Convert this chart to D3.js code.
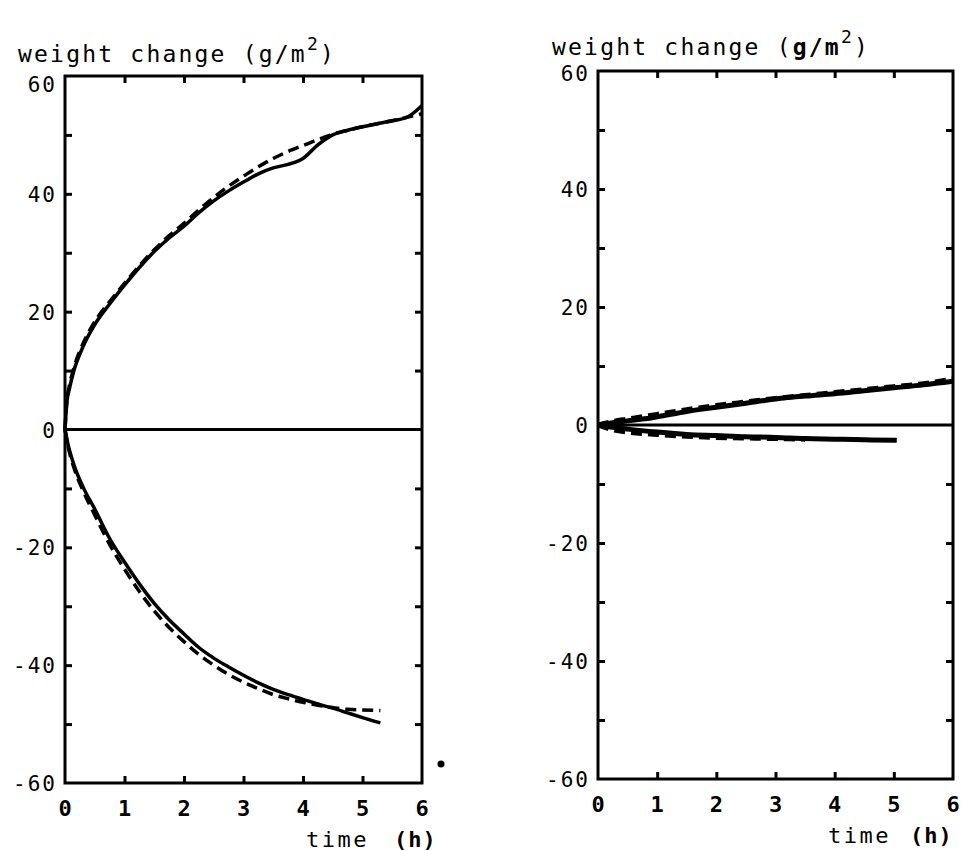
<!DOCTYPE html>
<html>
<head>
<meta charset="utf-8">
<script src="https://cdn.jsdelivr.net/npm/d3@7"></script>
<style>
  body { margin: 0; background: #fff; }
  svg text { font-family: "DejaVu Sans Mono", "Liberation Mono", monospace; fill: #000; }
</style>
</head>
<body>
<svg id="chart" width="963" height="851"></svg>
<script>
// tick values
var hours = [0, 1, 2, 3, 4, 5, 6];
var yLabels = [-60, -40, -20, 0, 20, 40, 60];
var yMinor = [-50, -40, -30, -20, -10, 10, 20, 30, 40, 50];

// left panel, weight gain (upper) and loss (lower)
var tUp = [0, 0.03, 0.08, 0.15, 0.3, 0.5, 0.75, 1, 1.25, 1.5, 1.75, 2, 2.25, 2.5, 2.75, 3, 3.25, 3.5, 3.75, 4, 4.25, 4.5, 4.75, 5, 5.25, 5.5, 5.75, 6];
var leftUpSolid = [0, 4.4, 7.2, 10, 14, 17.8, 21.3, 24.5, 27.5, 30.2, 32.5, 34.5, 36.8, 38.8, 40.5, 42, 43.4, 44.4, 45, 46, 48.3, 50, 50.8, 51.4, 51.9, 52.4, 53, 55];
var leftUpDashed = [0, 4.8, 7.7, 10.5, 14.5, 18.3, 21.7, 24.8, 27.8, 30.5, 32.9, 35, 37.3, 39.4, 41.3, 43, 44.6, 46, 47.2, 48.2, 49.2, 50.1, 50.8, 51.4, 51.9, 52.4, 53, 53.6];

var tDown = [0, 0.05, 0.15, 0.3, 0.5, 0.75, 1, 1.25, 1.5, 1.75, 2, 2.25, 2.5, 2.75, 3, 3.25, 3.5, 3.75, 4, 4.25, 4.5, 4.75, 5, 5.3];
var leftDownSolid = [0, -2.5, -6, -9.7, -13.5, -18.5, -22.5, -26.2, -29.5, -32.3, -34.7, -37, -38.8, -40.3, -41.7, -43, -44.1, -45, -45.8, -46.6, -47.3, -48.1, -48.9, -49.8];
var leftDownDashed = [0, -2.8, -6.5, -10.3, -14.5, -19.5, -23.7, -27.5, -30.8, -33.6, -36, -38.2, -40, -41.6, -42.9, -44, -45, -45.7, -46.3, -46.8, -47.2, -47.5, -47.6, -47.7];

// right panel
var tR = [0, 0.25, 0.5, 0.75, 1, 1.5, 2, 2.5, 3, 3.5, 4, 4.5, 5, 5.5, 6];
var rightUpSolid = [0, 0.4, 0.7, 1.0, 1.4, 2.3, 3.0, 3.7, 4.4, 4.9, 5.3, 5.8, 6.3, 6.8, 7.4];
var rightUpDashed = [0, 0.6, 1.0, 1.4, 1.8, 2.6, 3.3, 3.9, 4.5, 5.0, 5.5, 6.0, 6.5, 7.0, 7.8];
var tRDown = [0, 0.25, 0.5, 1, 1.5, 2, 2.5, 3, 3.5, 4, 4.5, 5.05];
var rightDownSolid = [0, -0.4, -0.7, -1.2, -1.6, -1.8, -2.0, -2.1, -2.3, -2.4, -2.5, -2.6];
var rightDownDashed = [0, -0.8, -1.2, -1.6, -1.9, -2.1, -2.2, -2.3, -2.4];

function zip(ts, vs) {
    return vs.map(function (v, i) { return { t: ts[i], v: v }; });
}

var svg = d3.select("#chart");

function drawPanel(p) {
    var x = d3.scaleLinear().domain([0, 6]).range([p.left, p.right]);
    var y = d3.scaleLinear().domain([-60, 60]).range([p.bottom, p.top]);
    var g = svg.append("g");

    // inward ticks on all four sides
    g.append("g").attr("transform", "translate(0," + p.bottom + ")")
        .call(d3.axisBottom(x).tickValues(hours.slice(1, 6)).tickSize(-7).tickFormat(""));
    g.append("g").attr("transform", "translate(0," + p.top + ")")
        .call(d3.axisTop(x).tickValues(hours.slice(1, 6)).tickSize(-7).tickFormat(""));
    g.append("g").attr("transform", "translate(" + p.left + ",0)")
        .call(d3.axisLeft(y).tickValues(yMinor).tickSize(-7).tickFormat(""));
    g.append("g").attr("transform", "translate(" + p.right + ",0)")
        .call(d3.axisRight(y).tickValues(yMinor).tickSize(-7).tickFormat(""));
    g.selectAll(".domain").remove();
    g.selectAll(".tick line").attr("stroke", "#000").attr("stroke-width", 3);

    // frame and zero line
    g.append("rect")
        .attr("x", p.left).attr("y", p.top)
        .attr("width", p.right - p.left).attr("height", p.bottom - p.top)
        .attr("fill", "none").attr("stroke", "#000").attr("stroke-width", 3);
    g.append("line")
        .attr("x1", x(0)).attr("x2", x(6))
        .attr("y1", y(0)).attr("y2", y(0))
        .attr("stroke", "#000").attr("stroke-width", 3);

    // labels
    g.selectAll("text.ylab").data(yLabels).enter().append("text")
        .attr("class", "ylab")
        .attr("x", p.left - 8)
        .attr("y", function (d) { return y(d) + 8 + (d === 60 ? p.topShift : 0); })
        .attr("text-anchor", "end")
        .attr("font-size", 21).attr("letter-spacing", 2)
        .text(function (d) { return d < 0 ? "-" + (-d) : d; });
    g.selectAll("text.xlab").data(hours).enter().append("text")
        .attr("class", "xlab")
        .attr("x", function (d) { return x(d); }).attr("y", p.bottom + 33)
        .attr("text-anchor", "middle")
        .attr("font-size", 22).attr("font-weight", "bold")
        .text(function (d) { return d; });
    g.append("text").attr("x", p.timeX).attr("y", p.bottom + 64)
        .attr("font-size", 22).attr("letter-spacing", 2.5).text("time");
    g.append("text").attr("x", p.timeX + p.unitGap).attr("y", p.bottom + 64)
        .attr("font-size", 22).attr("font-weight", "bold").attr("letter-spacing", 1).text("(h)");

    var title = g.append("text").attr("x", p.titleX).attr("y", p.titleY)
        .attr("font-size", 23).attr("letter-spacing", 2.2);
    title.append("tspan").text("weight change (");
    title.append("tspan").attr("font-weight", p.boldUnit ? "bold" : "normal").text("g/m");
    title.append("tspan").attr("dy", -12).attr("font-size", 18).attr("font-weight", "normal").text("2");
    title.append("tspan").attr("dy", 12).text(")");

    // curves
    var line = d3.line()
        .x(function (d) { return x(d.t); })
        .y(function (d) { return y(d.v); })
        .curve(d3.curveMonotoneX);
    p.series.forEach(function (s) {
        g.append("path")
            .attr("d", line(s.data))
            .attr("fill", "none").attr("stroke", "#000")
            .attr("stroke-width", s.width)
            .attr("stroke-dasharray", s.dashed ? "11,6" : null);
    });
}

drawPanel({
    left: 65, right: 422, top: 76, bottom: 783,
    titleX: 18, titleY: 62, timeX: 306, unitGap: 88, boldUnit: false, topShift: 8,
    series: [
        { data: zip(tUp, leftUpDashed), dashed: true, width: 3.5 },
        { data: zip(tUp, leftUpSolid), dashed: false, width: 3.5 },
        { data: zip(tDown, leftDownDashed), dashed: true, width: 3.5 },
        { data: zip(tDown, leftDownSolid), dashed: false, width: 3.5 }
    ]
});

drawPanel({
    left: 598, right: 953, top: 71, bottom: 779,
    titleX: 552, titleY: 55, timeX: 828, unitGap: 82, boldUnit: true, topShift: 2,
    series: [
        { data: zip(tR, rightUpDashed), dashed: true, width: 5 },
        { data: zip(tR, rightUpSolid), dashed: false, width: 5 },
        { data: zip(tRDown.slice(0, rightDownDashed.length), rightDownDashed), dashed: true, width: 5 },
        { data: zip(tRDown, rightDownSolid), dashed: false, width: 5 }
    ]
});

// stray print mark beside the left panel
svg.append("circle").attr("cx", 441).attr("cy", 764).attr("r", 3.5).attr("fill", "#000");
</script>
</body>
</html>
